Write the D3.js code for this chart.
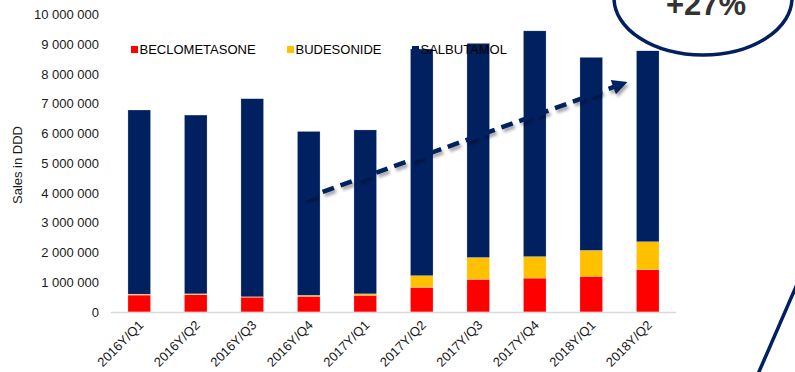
<!DOCTYPE html>
<html>
<head>
<meta charset="utf-8">
<script src="https://cdn.jsdelivr.net/npm/d3@7/dist/d3.min.js"></script>
<style>
  html, body { margin: 0; padding: 0; background: #fff; }
  svg { display: block; font-family: "Liberation Sans", Arial, sans-serif; }
</style>
</head>
<body>
<svg id="chart" width="795" height="372"></svg>
<script>
// Quarterly sales in DDD per molecule
const quarters = ["2016Y/Q1", "2016Y/Q2", "2016Y/Q3", "2016Y/Q4", "2017Y/Q1",
                  "2017Y/Q2", "2017Y/Q3", "2017Y/Q4", "2018Y/Q1", "2018Y/Q2"];
const beclometasone = [570000, 580000, 500000, 530000, 560000, 830000, 1100000, 1140000, 1200000, 1420000];
const budesonide    = [30000, 30000, 10000, 30000, 50000, 390000, 730000, 720000, 870000, 940000];
const salbutamol    = [6190000, 6010000, 6660000, 5510000, 5510000, 7620000, 7200000, 7590000, 6490000, 6420000];
const seriesNames = ["BECLOMETASONE", "BUDESONIDE", "SALBUTAMOL"];
const yTicks = [0, 1000000, 2000000, 3000000, 4000000, 5000000, 6000000, 7000000, 8000000, 9000000, 10000000];
const trendFrom = 3820000;   // trend arrow start level (2016Y/Q4)
const trendTo = 7730000;     // trend arrow end level (2018Y/Q2)
const growthLabel = "+27%";

const colors = { BECLOMETASONE: "#ff0000", BUDESONIDE: "#ffc000", SALBUTAMOL: "#002060" };
const navy = "#002060";

const svg = d3.select("#chart");

const rows = quarters.map((q, i) => ({
  quarter: q,
  BECLOMETASONE: beclometasone[i],
  BUDESONIDE: budesonide[i],
  SALBUTAMOL: salbutamol[i]
}));
const stacked = d3.stack().keys(seriesNames)(rows);

const x = d3.scaleBand().domain(quarters).range([111, 676]).paddingInner(0.6).paddingOuter(0.3);
const y = d3.scaleLinear().domain([0, 10000000]).range([312, 14.5]);

const fmt = d3.formatLocale({ decimal: ".", thousands: " ", grouping: [3], currency: ["", ""] }).format(",");

const defs = svg.append("defs");
const shadow = defs.append("filter").attr("id", "shadow")
  .attr("x", "-20%").attr("y", "-40%").attr("width", "140%").attr("height", "180%");
shadow.append("feDropShadow").attr("dx", 2).attr("dy", 3).attr("stdDeviation", 1.6)
  .attr("flood-color", "#000").attr("flood-opacity", 0.35);

// Y axis labels
const yAxis = d3.axisLeft(y).tickValues(yTicks).tickSize(0).tickPadding(4).tickFormat(fmt);
const gy = svg.append("g").attr("transform", "translate(103,0)").call(yAxis);
gy.select(".domain").remove();
gy.selectAll("text").attr("font-size", 13).attr("fill", "#1a1a1a")
  .attr("font-family", "Liberation Sans, Arial, sans-serif");

// Y axis title
svg.append("text")
  .attr("transform", "translate(22,165) rotate(-90)")
  .attr("text-anchor", "middle")
  .attr("font-size", 13).attr("fill", "#1a1a1a")
  .text("Sales in DDD");

// Stacked bars
svg.append("g").selectAll("g").data(stacked).join("g")
  .attr("fill", d => colors[d.key])
  .selectAll("rect").data(d => d).join("rect")
  .attr("x", d => x(d.data.quarter))
  .attr("y", d => y(d[1]))
  .attr("width", x.bandwidth())
  .attr("height", d => y(d[0]) - y(d[1]))
  .attr("stroke", "#ffffff").attr("stroke-width", 0.4).attr("stroke-opacity", 0.6);

// Baseline
svg.append("line")
  .attr("x1", 111).attr("x2", 676)
  .attr("y1", y(0) + 0.5).attr("y2", y(0) + 0.5)
  .attr("stroke", "#d9d9d9").attr("stroke-width", 1.5);

// X axis labels
const xAxis = d3.axisBottom(x).tickSize(0);
const gx = svg.append("g").attr("transform", `translate(0,${y(0)})`).call(xAxis);
gx.select(".domain").remove();
gx.selectAll("text")
  .attr("font-size", 13).attr("fill", "#1a1a1a")
  .attr("font-family", "Liberation Sans, Arial, sans-serif")
  .attr("text-anchor", "end")
  .attr("x", 0).attr("y", 0).attr("dy", 0)
  .attr("transform", "translate(5,14) rotate(-45)");

// Legend
const legendX = [131, 287, 412];
const legend = svg.append("g").selectAll("g").data(seriesNames).join("g")
  .attr("transform", (d, i) => `translate(${legendX[i]},46)`);
legend.append("rect").attr("width", 7).attr("height", 7).attr("fill", d => colors[d]);
legend.append("text").attr("x", 8.5).attr("y", 8)
  .attr("font-size", 13).attr("fill", "#000").text(d => d);

// Trend arrow
const x0 = x("2016Y/Q4") + x.bandwidth() / 2 - 4, y0 = y(trendFrom);
const x1 = x("2018Y/Q2") - 9, y1 = y(trendTo);
const len = Math.hypot(x1 - x0, y1 - y0);
const ux = (x1 - x0) / len, uy = (y1 - y0) / len;
const headLen = 15, headHalf = 7.5;
const arrow = svg.append("g").attr("filter", "url(#shadow)");
arrow.append("line")
  .attr("x1", x0).attr("y1", y0)
  .attr("x2", x1 - ux * (headLen - 2)).attr("y2", y1 - uy * (headLen - 2))
  .attr("stroke", navy).attr("stroke-width", 4.5)
  .attr("stroke-dasharray", "12,7");
const bx = x1 - ux * headLen, by = y1 - uy * headLen;
arrow.append("path")
  .attr("d", `M${x1},${y1}L${bx - uy * headHalf},${by + ux * headHalf}L${bx + uy * headHalf},${by - ux * headHalf}Z`)
  .attr("fill", navy);

// Growth callout
svg.append("ellipse")
  .attr("cx", 703).attr("cy", -2).attr("rx", 89).attr("ry", 57)
  .attr("fill", "#fff").attr("stroke", navy).attr("stroke-width", 3.5);
svg.append("text")
  .attr("x", 706).attr("y", 15)
  .attr("text-anchor", "middle")
  .attr("font-size", 31).attr("font-weight", "bold").attr("fill", "#333333")
  .text(growthLabel);

// Connector line leaving the frame
svg.append("line")
  .attr("x1", 758).attr("y1", 374).attr("x2", 800).attr("y2", 277.5)
  .attr("stroke", navy).attr("stroke-width", 3.5);
</script>
</body>
</html>
